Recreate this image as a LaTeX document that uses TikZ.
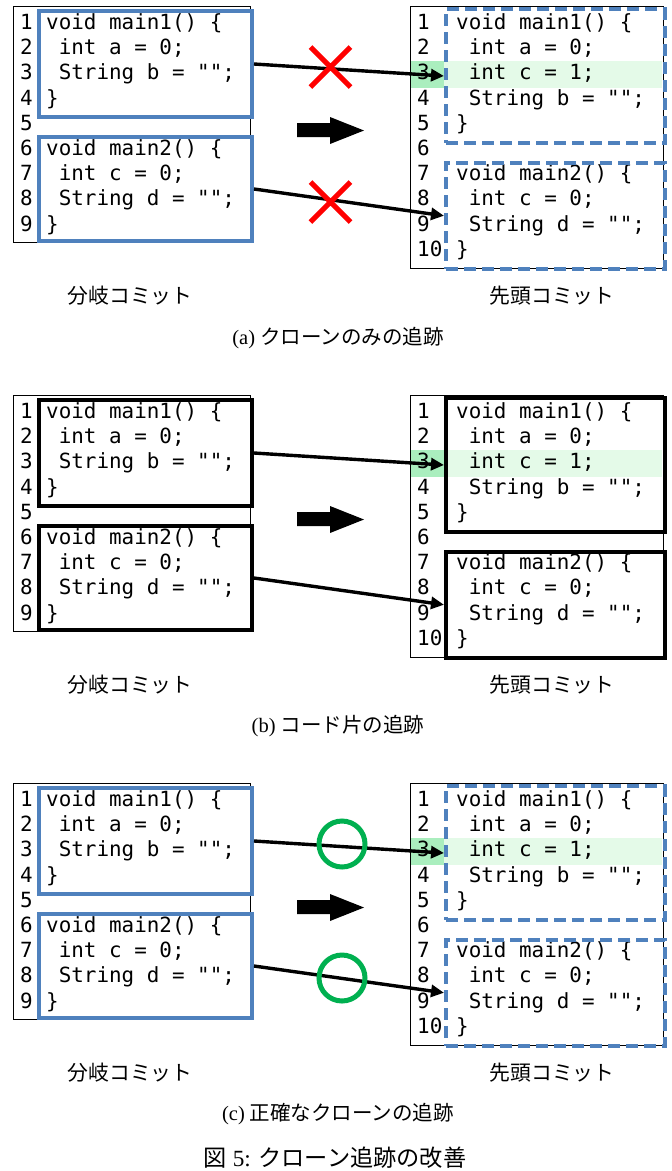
\documentclass[tikz,border=0pt]{standalone}
\usepackage{fontspec}
\setmainfont{Liberation Serif}
\setmonofont{DejaVu Sans Mono}
\newfontfamily\jp{Noto Sans CJK JP}
\usetikzlibrary{arrows.meta}
\definecolor{boxblue}{RGB}{79,129,189}
\definecolor{okgreen}{RGB}{0,176,80}
\definecolor{hlnum}{RGB}{170,238,190}
\definecolor{hlcode}{RGB}{228,250,232}
\tikzset{
  codetext/.style={anchor=base west, inner sep=0pt, font=\ttfamily\fontsize{20.9}{24}\selectfont},
  thinbox/.style={draw=black, line width=1pt},
  region/.style={rectangle, inner sep=0pt, anchor=north west},
  clonebox/.style={region, draw=boxblue, line width=4pt},
  clonedash/.style={region, draw=boxblue, line width=4pt, dash pattern=on 12pt off 6pt},
  fragbox/.style={region, draw=black, line width=4pt},
  link/.style={draw=black, line width=3.4pt, -{Triangle[length=13pt,width=12pt]}},
  xmark/.style={draw=red, line width=5pt},
  omark/.style={draw=okgreen, line width=5pt},
  commitlabel/.style={font=\jp\fontsize{20.8}{24}\selectfont, inner sep=0pt},
  subcap/.style={font=\fontsize{20.5}{24}\selectfont, inner sep=0pt},
}
\newcommand\rowy[1]{29.5+25.2*(#1-1)}
\newcommand\codepanel[4]{% #1 suffix, #2 y offset, #3 left style, #4 right style
\begin{scope}[shift={(0,#2)}]
  % highlight of the inserted line
  \fill[hlnum] (409.5,61) rectangle (444,88);
  \fill[hlcode] (444,61) rectangle (662,88);
  % thin outer frames
  \node[region, thinbox, minimum width=237pt, minimum height=236pt] (LF#1) at (13,6) {};
  \node[region, thinbox, minimum width=253.5pt, minimum height=262pt] (RF#1) at (409.5,6) {};
  % line numbers
  \foreach \i in {1,...,9} \node[codetext] (ln#1\i) at (20,{\rowy{\i}}) {\i};
  \foreach \i in {1,...,10} \node[codetext] (rn#1\i) at (417,{\rowy{\i}}) {\i};
  % left code
  \node[codetext] (lc#1a) at (46,{\rowy{1}}) {void main1() \{};
  \node[codetext] (lc#1b) at (46,{\rowy{2}}) {\ int a = 0;};
  \node[codetext] (lc#1c) at (46,{\rowy{3}}) {\ String b = "";};
  \node[codetext] (lc#1d) at (46,{\rowy{4}}) {\}};
  \node[codetext] (lc#1e) at (46,{\rowy{6}}) {void main2() \{};
  \node[codetext] (lc#1f) at (46,{\rowy{7}}) {\ int c = 0;};
  \node[codetext] (lc#1g) at (46,{\rowy{8}}) {\ String d = "";};
  \node[codetext] (lc#1h) at (46,{\rowy{9}}) {\}};
  % right code
  \node[codetext] (rc#1a) at (456,{\rowy{1}}) {void main1() \{};
  \node[codetext] (rc#1b) at (456,{\rowy{2}}) {\ int a = 0;};
  \node[codetext] (rc#1c) at (456,{\rowy{3}}) {\ int c = 1;};
  \node[codetext] (rc#1d) at (456,{\rowy{4}}) {\ String b = "";};
  \node[codetext] (rc#1e) at (456,{\rowy{5}}) {\}};
  \node[codetext] (rc#1f) at (456,{\rowy{7}}) {void main2() \{};
  \node[codetext] (rc#1g) at (456,{\rowy{8}}) {\ int c = 0;};
  \node[codetext] (rc#1h) at (456,{\rowy{9}}) {\ String d = "";};
  \node[codetext] (rc#1i) at (456,{\rowy{10}}) {\}};
  % method boxes
  \node[#3, minimum width=213pt, minimum height=106pt] (L1#1) at (37,9) {};
  \node[#3, minimum width=213pt, minimum height=104pt] (L2#1) at (37,135) {};
  \node[#4, minimum width=218.5pt, minimum height=134pt] (R1#1) at (444,7) {};
  \node[#4, minimum width=218.5pt, minimum height=106.5pt] (R2#1) at (444,160.5) {};
  % tracking links
  \draw[link] (L1#1.east) -- (R1#1.west);
  \draw[link] (L2#1.east) -- (R2#1.west);
  % block arrow
  \fill[black] (297,123) -- (330,123) -- (330,117) -- (364,130.5) -- (330,144) -- (330,137) -- (297,137) -- cycle;
  % commit labels
  \node[commitlabel] (bc#1) at (130,296) {分岐コミット};
  \node[commitlabel] (hc#1) at (552,296) {先頭コミット};
\end{scope}}
\begin{document}
\begin{tikzpicture}[x=1pt,y=-1pt]
  \useasboundingbox (0,0) rectangle (672,1171);
  % (a)
  \codepanel{a}{0}{clonebox}{clonedash}
  \draw[xmark] (310.5,47) -- (350.5,87) (310.5,87) -- (350.5,47);
  \draw[xmark] (310.5,182) -- (350.5,222) (310.5,222) -- (350.5,182);
  \node[subcap] (capa) at (338,338) {(a) {\jp クローンのみの追跡}};
  % (b)
  \codepanel{b}{389}{fragbox}{fragbox}
  \node[subcap] (capb) at (338,726) {(b) {\jp コード片の追跡}};
  % (c)
  \codepanel{c}{777}{clonebox}{clonedash}
  \draw[omark] (342,844) circle[radius=23pt];
  \draw[omark] (342,978) circle[radius=23pt];
  \node[subcap] (capc) at (338,1114) {(c) {\jp 正確なクローンの追跡}};
  % figure caption
  \node[font=\fontsize{23.2}{27}\selectfont, inner sep=0pt] (figcap) at (335,1158) {{\jp 図} 5: {\jp クローン追跡の改善}};
\end{tikzpicture}
\end{document}
